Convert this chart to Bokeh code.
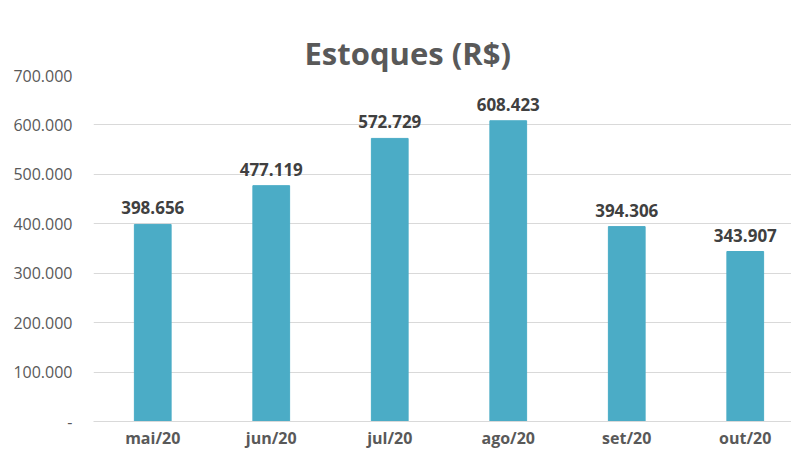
from bokeh.plotting import figure
from bokeh.models import ColumnDataSource, FixedTicker, Range1d, LabelSet, Title
from bokeh.core.properties import value
from bokeh.embed import file_html
from bokeh.resources import INLINE

months = ["mai/20", "jun/20", "jul/20", "ago/20", "set/20", "out/20"]
values = [398656, 477119, 572729, 608423, 394306, 343907]
labels = ["398.656", "477.119", "572.729", "608.423", "394.306", "343.907"]
ytick_values = [0, 100000, 200000, 300000, 400000, 500000, 600000, 700000]
ytick_labels = ["-", "100.000", "200.000", "300.000", "400.000", "500.000", "600.000", "700.000"]
title_text = "Estoques (R$)"

FONT = "Open Sans"
GRAY = "#595959"

xpos = list(range(1, len(months) + 1))
src = ColumnDataSource(dict(x=xpos, y=values, lab=labels))

W, H = 791, 452
LEFT, RIGHT, TOP, BOTTOM = 93, 0, 75, 31
CAT_W = 118.5  # pixels per category in the reference (last category clipped)
frame_w = W - LEFT - RIGHT

p = figure(x_range=Range1d(0.5, 0.5 + frame_w / CAT_W), y_range=Range1d(0, 700000),
           width=W, height=H,
           output_backend="svg", toolbar_location=None,
           min_border_left=LEFT, min_border_right=RIGHT,
           min_border_top=TOP, min_border_bottom=BOTTOM)
p.title.text = ""

# chart title
p.add_layout(Title(text=title_text, align="left", offset=211, standoff=4,
                   text_font=FONT, text_font_size="31px", text_font_style="bold",
                   text_color=GRAY), "above")
# invisible spacer between title and plot frame
p.add_layout(Title(text=".", text_font=FONT, text_font_size="10px", standoff=10,
                   text_color="white"), "above")

p.vbar(x="x", top="y", width=0.31, source=src, color="#4BACC6")

p.add_layout(LabelSet(x="x", y="y", text="lab", source=src, text_align="center",
                      text_baseline="bottom", y_offset=10, text_font=value(FONT),
                      text_font_size=value("17px"), text_font_style=value("bold"),
                      text_color=value("#404040")))

p.outline_line_color = None
p.xgrid.grid_line_color = None
p.ygrid.grid_line_color = "#D9D9D9"
p.ygrid.grid_line_width = 1

p.yaxis.ticker = FixedTicker(ticks=ytick_values)
p.yaxis.major_label_overrides = {v: l for v, l in zip(ytick_values, ytick_labels)}
p.yaxis.axis_line_color = None
p.yaxis.major_tick_line_color = None
p.yaxis.minor_tick_line_color = None
p.yaxis.major_tick_out = 0
p.yaxis.major_label_text_font = FONT
p.yaxis.major_label_text_font_size = "16px"
p.yaxis.major_label_text_color = GRAY
p.yaxis.major_label_standoff = 21

p.xaxis.ticker = FixedTicker(ticks=xpos)
p.xaxis.major_label_overrides = {x: m for x, m in zip(xpos, months)}
p.xaxis.axis_line_color = "#D9D9D9"
p.xaxis.major_tick_line_color = None
p.xaxis.minor_tick_line_color = None
p.xaxis.major_tick_out = 0
p.xaxis.major_label_text_font = FONT
p.xaxis.major_label_text_font_size = "16px"
p.xaxis.major_label_text_font_style = "bold"
p.xaxis.major_label_text_color = GRAY
p.xaxis.major_label_standoff = 5

open("out.html", "w").write(file_html(p, INLINE))
